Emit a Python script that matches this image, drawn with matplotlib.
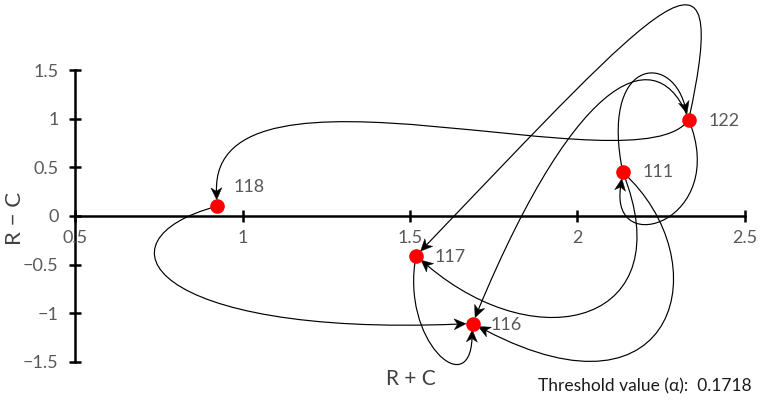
import numpy as np
import matplotlib
matplotlib.use("Agg")
import matplotlib.pyplot as plt
from matplotlib.path import Path
from matplotlib.patches import PathPatch, Polygon

# ---------------- data ----------------
names = ["118", "117", "116", "111", "122"]
r_plus_c = [0.923, 1.518, 1.687, 2.136, 2.333]
r_minus_c = [0.10, -0.41, -1.105, 0.45, 0.99]
edges = [("122", "118"), ("118", "116"), ("122", "117"), ("111", "122"),
         ("122", "116"), ("122", "111"), ("111", "117"), ("111", "116"),
         ("117", "116")]
x_ticks = [0.5, 1, 1.5, 2, 2.5]
y_ticks = [-1.5, -1, -0.5, 0, 0.5, 1, 1.5]
threshold = 0.1718

# ---------------- style ----------------
# bezier control offsets in pixels (dx right, dy down): first relative to start, second relative to end
ctrl = [((-49, 72), (-5, -165)),
        ((-127, 34), (-323, 13)),
        ((45, -205), (244, -255)),
        ((-23, -112), (-19, -69)),
        ((-29, -79), (107, -257)),
        ((41, 101), (-13, 88)),
        ((60, 150), (124, 105)),
        ((97, 88), (207, 108)),
        ((-16, 85), (-3, 78))]
label_off = {"118": (12, 14), "117": (13, -1), "116": (13, -1), "111": (14, 0), "122": (14, -1)}

plt.rcParams['font.family'] = ['Lato', 'DejaVu Sans']
W, H = 760, 400
fig = plt.figure(figsize=(W / 100, H / 100), dpi=100)
ax = fig.add_axes([0, 0, 1, 1])
ax.set_facecolor("white")

# pixel mapping: x=0.5 -> 75.4px, 334.6 px/unit ; y=0 -> 216px, 97.3 px/unit
ax.set_xlim(0.5 - 75.4 / 334.6, 0.5 + (W - 75.4) / 334.6)
ax.set_ylim((216 - H) / 97.3, 216 / 97.3)

for s in ["top", "right"]:
    ax.spines[s].set_visible(False)
ax.spines["left"].set_position(("data", 0.5))
ax.spines["bottom"].set_position(("data", 0))
ax.spines["left"].set_bounds(-1.5, 1.5)
ax.spines["bottom"].set_bounds(0.5, 2.5)
for s in ["left", "bottom"]:
    ax.spines[s].set_linewidth(1.8)
    ax.spines[s].set_color("black")
    ax.spines[s].set_zorder(1)

ax.set_xticks(x_ticks)
ax.set_xticklabels([f"{v:g}" for v in x_ticks])
ax.set_yticks(y_ticks)
ax.set_yticklabels([f"{v:g}".replace("-", "\u2212") for v in y_ticks])
ax.tick_params(axis="both", direction="inout", length=8, width=1.8, colors="black",
               labelcolor="#595959", labelsize=13)
ax.tick_params(axis="x", pad=6)
ax.tick_params(axis="y", pad=8)

pos = {n: (x, y) for n, x, y in zip(names, r_plus_c, r_minus_c)}

fig.canvas.draw()
tr = ax.transData
inv = tr.inverted()

def px(p):
    return np.array(tr.transform(p))

head_len, head_half, notch = 12.0, 5.5, 3.5
for (a, b), (o1, o2) in zip(edges, ctrl):
    p0 = px(pos[a])
    p3 = px(pos[b])
    p1 = p0 + np.array([o1[0], -o1[1]])
    p2 = p3 + np.array([o2[0], -o2[1]])
    u = (p3 - p2) / np.linalg.norm(p3 - p2)
    tip = p3 - u * 6.5
    # line stops inside the head (at the notch)
    line_end = tip - u * (head_len - notch)
    verts = inv.transform(np.array([p0, p1, p2, line_end]))
    path = Path(verts, [Path.MOVETO, Path.CURVE4, Path.CURVE4, Path.CURVE4])
    ax.add_patch(PathPatch(path, fill=False, edgecolor="black", lw=0.85, zorder=2))
    # arrow head direction from the actual curve end tangent
    nvec = np.array([-u[1], u[0]])
    base = tip - u * head_len
    head = np.array([tip, base + nvec * head_half, tip - u * (head_len - notch),
                     base - nvec * head_half])
    ax.add_patch(Polygon(inv.transform(head), closed=True, facecolor="black",
                         edgecolor="black", lw=0.3, zorder=2))

ax.plot(r_plus_c, r_minus_c, "o", color="#ff0000", markersize=9.5, zorder=3, mec="#ff0000")
for n, x, y in zip(names, r_plus_c, r_minus_c):
    ox, oy = label_off[n]
    ax.annotate(n, (x, y), xytext=(ox, oy), textcoords="offset points",
                ha="left", va="center", fontsize=13, color="#595959")

ax.text(15 / W, 1 - 218 / H, "R \u2212 C", transform=fig.transFigure, rotation=90,
        ha="center", va="center", fontsize=16, color="#404040")
ax.text(411 / W, 1 - 379 / H, "R + C", transform=fig.transFigure,
        ha="center", va="center", fontsize=15, color="#404040")
ax.text(752 / W, 1 - 386 / H, f"Threshold value (\u03b1):  {threshold}", transform=fig.transFigure,
        ha="right", va="center", fontsize=12.5, color="#1a1a1a")

fig.savefig("out.png", dpi=100)
